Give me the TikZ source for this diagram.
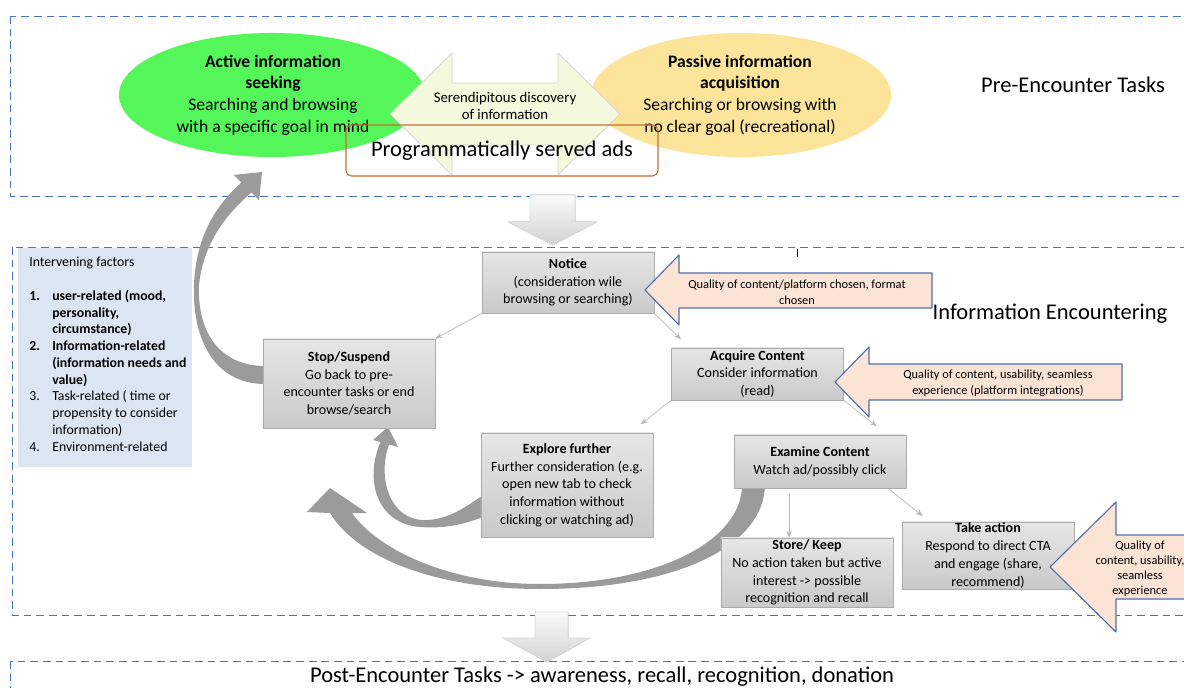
\documentclass[tikz,border=0pt]{standalone}
\usepackage{fontspec}
\setmainfont{Carlito}
\usetikzlibrary{arrows.meta}
\definecolor{frameblue}{RGB}{68,114,196}
\definecolor{activegreen}{RGB}{84,246,90}
\definecolor{passiveyellow}{RGB}{252,228,154}
\definecolor{serenfill}{RGB}{244,248,220}
\definecolor{factorblue}{RGB}{220,230,242}
\definecolor{pinkfill}{RGB}{251,228,213}
\definecolor{pinkedge}{RGB}{79,110,170}
\definecolor{adsedge}{RGB}{197,110,50}
\definecolor{curvegray}{RGB}{155,155,155}
\begin{document}
\begin{tikzpicture}[x=0.025cm,y=-0.025cm,line join=round,
	frame/.style={draw=frameblue,line width=0.7pt,dash pattern=on 5.5pt off 3.5pt},
	stage/.style={draw=gray!65,top color=gray!20,bottom color=gray!42,minimum width=4.3cm,inner sep=0pt,align=center,font=\fontsize{10}{12.6}\selectfont},
	conn/.style={draw=gray!55,line width=0.5pt,-{Stealth[length=5pt,width=4pt]}},
	pinkarrow/.style={fill=pinkfill,draw=pinkedge,line width=0.8pt},
	pinktext/.style={align=center,inner sep=0pt,font=\fontsize{8.8}{11.2}\selectfont},
	blockdown/.style={top color=gray!4,bottom color=gray!35,draw=gray!30,line width=0.5pt},
	bigcurve/.style={fill=curvegray},
	biglabel/.style={font=\fontsize{16}{19}\selectfont}]
		\useasboundingbox (0,0) rectangle (1184,688);
		\clip (0,0) rectangle (1184,688);
		% frames
		\draw[frame] (10,16) rectangle (1200,196);
		\draw[frame] (12,247) rectangle (1200,615);
		\draw[frame] (10,661) rectangle (1200,700);
		% block arrows between stages
		\filldraw[blockdown] (530,195) -- (575,195) -- (575,222) -- (597,222) -- (553,245) -- (508,222) -- (530,222) -- cycle;
		\filldraw[blockdown] (535,612) -- (568,612) -- (568,638) -- (590,638) -- (547,662) -- (503,638) -- (535,638) -- cycle;
		% pre-encounter
		\fill[activegreen] (272,95) ellipse [x radius=3.825cm, y radius=1.55cm];
		\fill[passiveyellow] (741,95) ellipse [x radius=3.75cm, y radius=1.55cm];
		\filldraw[fill=serenfill,draw=gray!35,line width=0.5pt] (390,114) -- (452,53) -- (452,83) -- (558,83) -- (558,53) -- (620,114) -- (558,175) -- (558,145) -- (452,145) -- (452,175) -- cycle;
		\node[align=center,font=\fontsize{12.5}{15.4}\selectfont] (active) at (273,95) {\textbf{Active information}\\\textbf{seeking}\\Searching and browsing\\with a specific goal in mind};
		\node[align=center,font=\fontsize{12.5}{15.4}\selectfont] (passive) at (740,95) {\textbf{Passive information}\\\textbf{acquisition}\\Searching or browsing with\\no clear goal (recreational)};
		\node[align=center,font=\fontsize{10.5}{12}\selectfont] (seren) at (505,106) {Serendipitous discovery\\of information};
		\node[biglabel,draw=adsedge,line width=0.8pt,rounded corners=4pt,minimum width=7.8cm,minimum height=1.275cm] (ads) at (502,150.5) {Programmatically served ads};
		\node[biglabel] (pre) at (1073,85) {Pre-Encounter Tasks};
		% curved return arrows
		\fill[bigcurve] (265,384) .. controls (215,384) and (192,340) .. (194,285) .. controls (196,230) and (222,200) .. (241.4,182.6) -- (233.7,174.9) -- (262,172) -- (259.1,200.3) -- (251.4,192.6) .. controls (225,215) and (203,245) .. (199,285) .. controls (197,335) and (222,366) .. (265,366) -- cycle;
		\fill[bigcurve] (483,517) .. controls (455,528) and (435,528) .. (420,527) .. controls (377,524) and (364,480) .. (380.5,442) -- (373,440) -- (388,427) -- (398,447) -- (389,444.5) .. controls (377,478) and (390,519) .. (423,520) .. controls (445,521) and (465,508) .. (483,495) -- cycle;
		\fill[bigcurve] (765,485) .. controls (764,545) and (680,589) .. (540,589) .. controls (430,589) and (355,555) .. (330,513) -- (307,512) -- (330,488) -- (367,513) -- (352,513) .. controls (378,550) and (450,584) .. (540,584) .. controls (660,584) and (742,540) .. (742,485) -- cycle;
		% intervening factors
		\node[fill=factorblue,minimum width=4.35cm,minimum height=5.475cm,inner sep=0pt] (factorbox) at (105,357.5) {};
		\node[anchor=north west,inner sep=0pt,font=\fontsize{9.8}{11.9}\selectfont] (factors) at (29,255) {%
			\begin{tabular}{@{}p{0.575cm}@{}l@{}}
				\multicolumn{2}{@{}l@{}}{Intervening factors}\\
				& \\
				\textbf{1.} & \textbf{user-related (mood,}\\
				& \textbf{personality,}\\
				& \textbf{circumstance)}\\
				\textbf{2.} & \textbf{Information-related}\\
				& \textbf{(information needs and}\\
				& \textbf{value)}\\
				3. & Task-related ( time or\\
				& propensity to consider\\
				& information)\\
				4. & Environment-related
			\end{tabular}};
		% encountering stages
		\node[stage,minimum height=1.525cm] (notice) at (568,282.5) {\textbf{Notice}\\(consideration wile\\browsing or searching)};
		\node[stage,minimum height=2.225cm] (stop) at (349,383.5) {\textbf{Stop/Suspend}\\Go back to pre-\\encounter tasks or end\\browse/search};
		\node[stage,minimum height=1.3cm] (acquire) at (757.5,374) {\textbf{Acquire Content}\\Consider information\\(read)};
		\node[stage,minimum height=2.6cm] (explore) at (567,485) {\textbf{Explore further}\\Further consideration (e.g.\\open new tab to check\\information without\\clicking or watching ad)};
		\node[stage,minimum height=1.325cm] (examine) at (820,461.5) {\textbf{Examine Content}\\Watch ad/possibly click};
		\node[stage,minimum height=1.725cm] (store) at (807,572.5) {\textbf{Store/ Keep}\\No action taken but active\\interest -> possible\\recognition and recall};
		\node[stage,minimum height=1.675cm] (take) at (988,555.5) {\textbf{Take action}\\Respond to direct CTA\\and engage (share,\\recommend)};
		\draw[conn] (notice.south west) -- (stop.north east);
		\draw[conn] (notice.south east) -- ([xshift=7pt,yshift=6pt]acquire.north west);
		\draw[conn] (acquire.south west) -- ([xshift=-9pt,yshift=6pt]explore.north east);
		\draw[conn] (acquire.south east) -- ([xshift=-21pt,yshift=6pt]examine.north east);
		\draw[conn] ([xshift=-22pt,yshift=-3pt]examine.south) -- ([xshift=-22pt]examine.south |- store.north);
		\draw[conn] ([xshift=-13pt]examine.south east) -- ([xshift=15pt,yshift=4pt]take.north west);
		% quality factors
		\filldraw[pinkarrow] (645,290) -- (679,255) -- (679,273) -- (932,273) -- (932,308) -- (679,308) -- (679,325) -- cycle;
		\node[pinktext] (qualnotice) at (797,292) {Quality of content/platform chosen, format\\chosen};
		\filldraw[pinkarrow] (835,382) -- (869,347) -- (869,364) -- (1122,364) -- (1122,400) -- (869,400) -- (869,417) -- cycle;
		\node[pinktext] (qualacquire) at (998,383.5) {Quality of content, usability, seamless\\experience (platform integrations)};
		\filldraw[pinkarrow] (1050,567) -- (1116,502) -- (1116,535) -- (1200,535) -- (1200,599) -- (1116,599) -- (1116,632) -- cycle;
		\node[pinktext,font=\fontsize{8.8}{10.7}\selectfont] (qualtake) at (1140,568.5) {Quality of\\content, usability,\\seamless\\experience};
		\node[biglabel] (enc) at (1050,314) {Information Encountering};
		\node[biglabel,anchor=east] (post) at (899,677) {Post-Encounter Tasks -> awareness, recall, recognition, donation};
		\draw[line width=0.4pt] (797,249) -- (797,257);
		\end{tikzpicture}
\end{document}
